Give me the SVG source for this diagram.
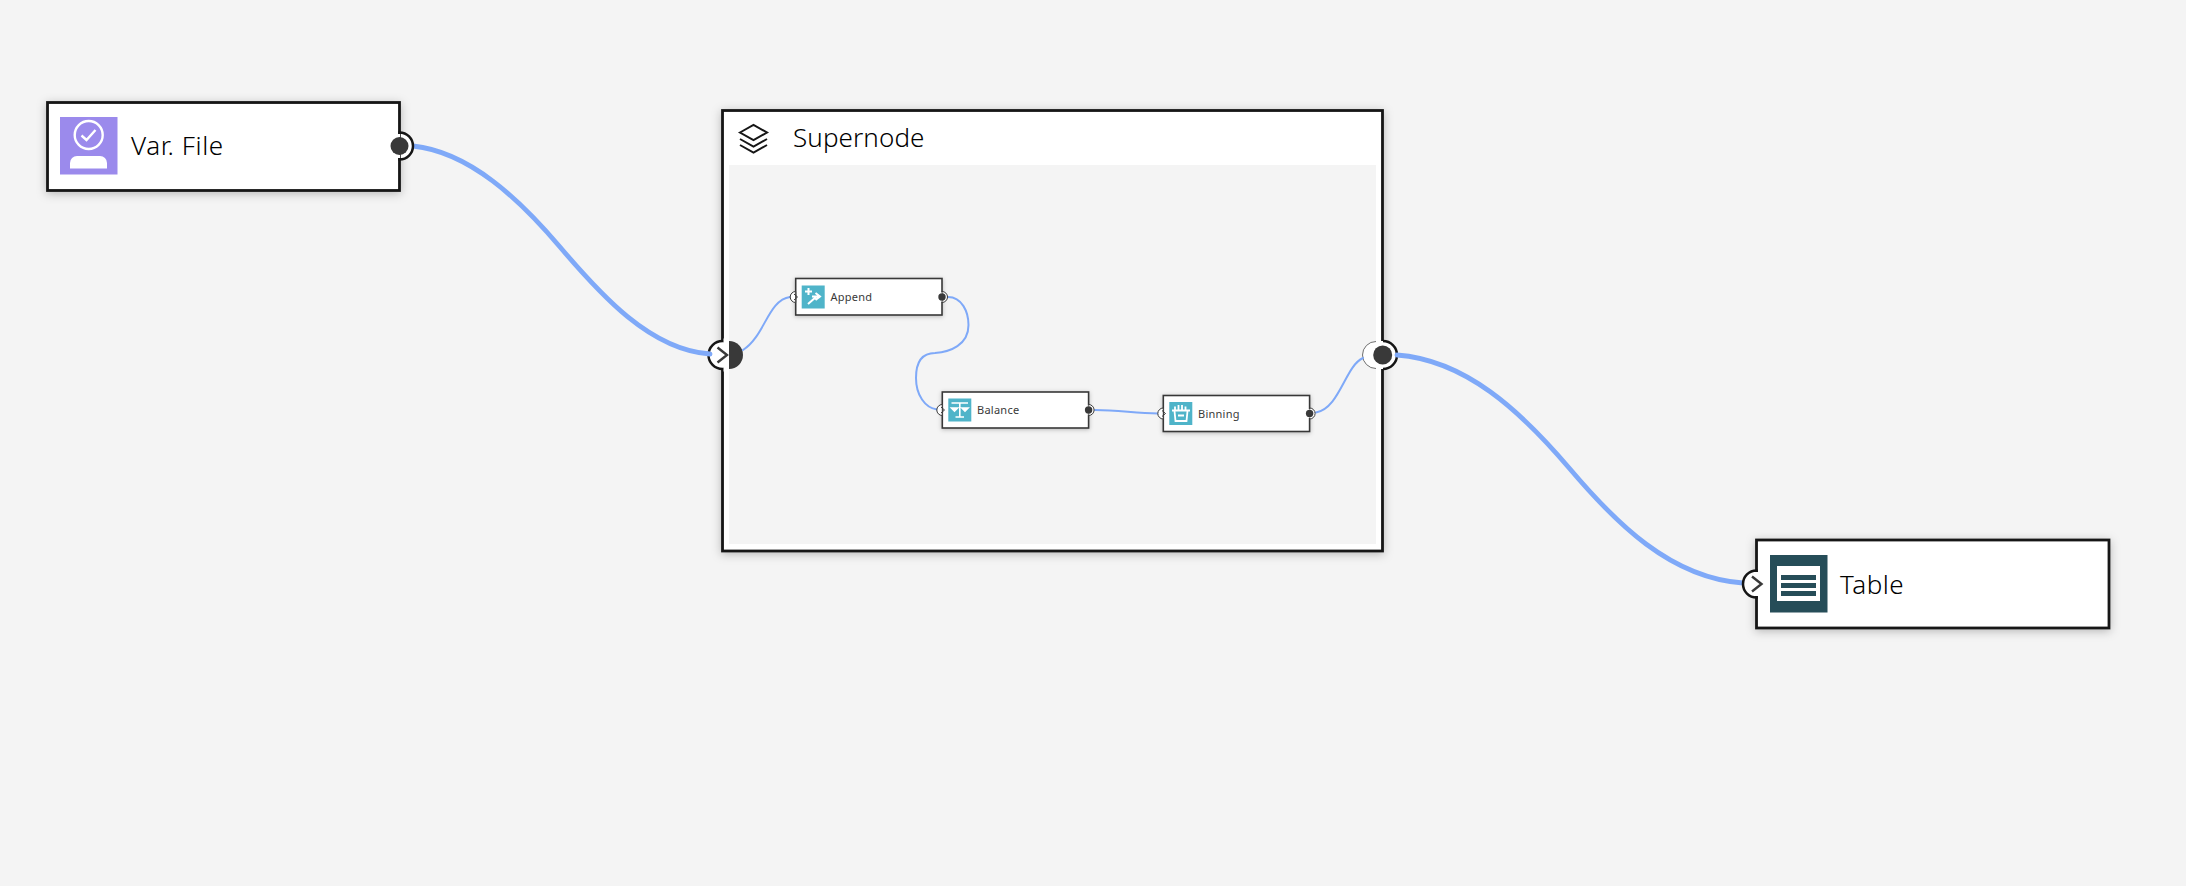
<svg xmlns="http://www.w3.org/2000/svg" width="2186" height="886" viewBox="0 0 2186 886">
<defs>
<style>
.box{fill:#fff;stroke:#161616;stroke-width:2.8}
.sbox{fill:#fff;stroke:#393939;stroke-width:1.6}
.lbl{font-family:"Noto Sans","Open Sans",sans-serif;fill:#000;font-size:26px;font-weight:300}
.slbl{font-family:"Noto Sans","Open Sans",sans-serif;fill:#393939;font-size:11px;letter-spacing:.25px}
.con{fill:none;stroke:#7fa9f8;stroke-width:4.8;stroke-linecap:round}
.scon{fill:none;stroke:#7fa9f8;stroke-width:2;stroke-linecap:round}
.port{fill:#fff;stroke:#161616;stroke-width:2.5}
.sport{fill:#fff;stroke:#393939;stroke-width:1}
.dot{fill:#393939}
.chev{fill:none;stroke:#393939;stroke-width:2.4}
.schev{fill:none;stroke:#393939;stroke-width:1}
.ico{fill:#fff;stroke:none}
.icol{fill:none;stroke:#fff;stroke-width:2.4}
.teal{fill:#4fb4c9}
</style>
<filter id="sh" x="-10%" y="-20%" width="120%" height="150%"><feDropShadow dx="0" dy="2" stdDeviation="5" flood-color="#000" flood-opacity=".25"/></filter>
<filter id="ssh" x="-10%" y="-20%" width="120%" height="150%"><feDropShadow dx="0" dy="1" stdDeviation="2" flood-color="#000" flood-opacity=".25"/></filter>
<clipPath id="lefthalf"><rect x="1355" y="335" width="21" height="40"/></clipPath>
</defs>
<rect width="2186" height="886" fill="#f4f4f4"/>

<g id="node-supernode">
<rect class="box" x="722.500" y="110.500" width="660" height="440.500" filter="url(#sh)"/>
<rect x="729" y="165" width="647" height="379" fill="#f4f4f4"/>
<g fill="none" stroke="#161616" stroke-width="2">
<path d="M740 132.500 L753.500 125 L767 132.500 L753.500 140Z"/>
<path d="M740 139 L753.500 146.500 L767 139"/>
<path d="M740 145 L753.500 152.500 L767 145"/>
</g>
<text class="lbl" x="793" y="147" letter-spacing=".1">Supernode</text>
<circle class="port" cx="722.500" cy="355" r="14"/>
<rect x="723.500" y="338.500" width="5.500" height="33" fill="#fff"/>
<path class="chev" d="M717.500 347.500 L727 355 L717.500 362.500"/>
<path class="dot" d="M729 341 A14 14 0 0 1 729 369Z"/>
<circle cx="1376" cy="355" r="13.500" fill="#fff" stroke="#6f6f6f" stroke-width="1" clip-path="url(#lefthalf)"/>
<path d="M1376 341 H1383 A14 14 0 0 1 1383 369 H1376Z" fill="#fff"/>
<path d="M1383 341 A14 14 0 0 1 1383 369" fill="none" stroke="#161616" stroke-width="2.500"/>
<circle class="dot" cx="1382.700" cy="355" r="9.500"/>
</g>

<g id="connectors">
<path class="con" d="M413 146 C470 152 520 200 560 247 C600 294 650 350 710 354"/>
<path class="con" d="M1397 355 C1465 360 1520 410 1570 469 C1615 522 1670 578 1743 583"/>
<path class="scon" d="M743 350 C765 336 768 300 790 297"/>
<path class="scon" d="M948 297 C962 297 968.500 312 968.500 325 C968.500 345 950 352 935 353 C920 353 916 365 916 378 C916 395 925 408 937 409.500"/>
<path class="scon" d="M1095 410 C1120 410 1135 413.500 1158 413.500"/>
<path class="scon" d="M1316 412.500 C1340 408 1345 366 1363 358"/>
</g>

<g id="node-var-file">
<rect class="box" x="47.500" y="102.500" width="352" height="88" filter="url(#sh)"/>
<rect x="60" y="117" width="57.500" height="57.500" fill="#9b8aec"/>
<circle class="icol" cx="88.700" cy="135" r="14"/>
<path class="icol" d="M81.500 135.500 L86.500 140 L95.500 130"/>
<path class="ico" d="M70 168.500 V163 A7 7 0 0 1 77 156 H100 A7 7 0 0 1 107 163 V168.500Z"/>
<text class="lbl" x="131" y="155" letter-spacing=".6">Var. File</text>
<path class="port" d="M399.500 132.500 A13.500 13.500 0 0 1 399.500 159.500Z"/>
<rect x="396" y="134" width="4" height="24" fill="#fff"/>
<circle class="dot" cx="399.500" cy="146" r="9"/>
</g>

<g id="node-append">
<rect class="sbox" x="795.700" y="278.500" width="146.300" height="36.500" filter="url(#ssh)"/>
<rect class="teal" x="801.700" y="285.500" width="23" height="23"/>
<path d="M805 291.500 H812 M808.500 288 V295 M808 304 L816 297 M812 296.500 L819 296.500 M815.500 293 L820 296.500 L815.500 300" fill="none" stroke="#fff" stroke-width="2"/>
<text class="slbl" x="830.500" y="300.500">Append</text>
<path class="sport" d="M795.700 291.500 A5.500 5.500 0 0 0 795.700 302.500Z"/>
<path class="schev" d="M794 294 L797.500 297 L794 300"/>
<path class="sport" d="M942 291.500 A5.500 5.500 0 0 1 942 302.500Z"/>
<rect x="939" y="292.500" width="3" height="9" fill="#fff"/>
<circle class="dot" cx="942" cy="297" r="3.700"/>
</g>

<g id="node-balance">
<rect class="sbox" x="942.300" y="392" width="146.300" height="36" filter="url(#ssh)"/>
<rect class="teal" x="948.300" y="398.500" width="23" height="23"/>
<path d="M951.500 403 H968 M959.800 403 V416.500 M955.500 417 H964 M951.500 408 H957.500 L954.500 411Z M962 408 H968 L965 411Z" fill="#fff" stroke="#fff" stroke-width="1.600"/>
<text class="slbl" x="977" y="414">Balance</text>
<path class="sport" d="M942.300 404.500 A5.500 5.500 0 0 0 942.300 415.500Z"/>
<path class="schev" d="M941 407 L944.500 410 L941 413"/>
<path class="sport" d="M1088.600 404.500 A5.500 5.500 0 0 1 1088.600 415.500Z"/>
<rect x="1085.600" y="405.500" width="3" height="9" fill="#fff"/>
<circle class="dot" cx="1088.600" cy="410" r="3.700"/>
</g>

<g id="node-binning">
<rect class="sbox" x="1163.300" y="395.500" width="146.300" height="36" filter="url(#ssh)"/>
<rect class="teal" x="1169.300" y="402" width="23" height="23"/>
<path d="M1172 410.500 H1190 M1175 410 V406.500 M1178.500 410 V405 M1182 410 V405 M1185.500 410 V406.500 M1174.500 411 L1175.500 421 H1186.500 L1187.500 411 M1178 415.500 H1184" fill="none" stroke="#fff" stroke-width="1.800"/>
<text class="slbl" x="1198" y="418">Binning</text>
<path class="sport" d="M1163.300 408 A5.500 5.500 0 0 0 1163.300 419Z"/>
<path class="schev" d="M1162 410.500 L1165.500 413.500 L1162 416.500"/>
<path class="sport" d="M1309.600 408 A5.500 5.500 0 0 1 1309.600 419Z"/>
<rect x="1306.600" y="409" width="3" height="9" fill="#fff"/>
<circle class="dot" cx="1309.600" cy="413.500" r="3.700"/>
</g>

<g id="node-table">
<rect class="box" x="1756.500" y="540" width="352.500" height="88" filter="url(#sh)"/>
<rect x="1770" y="555" width="57.500" height="57.500" fill="#264d58"/>
<rect x="1777" y="566" width="43" height="35" fill="#fff"/>
<path d="M1781 580 V575 H1816 V580Z M1781 588 V583 H1816 V588Z M1781 596 V591 H1816 V596Z" fill="#264d58"/>
<text class="lbl" x="1840" y="594" letter-spacing=".5">Table</text>
<path class="port" d="M1756.500 570.500 A13.500 13.500 0 0 0 1756.500 597.500Z"/>
<rect x="1755" y="572" width="3.500" height="24" fill="#fff"/>
<path class="chev" d="M1752 576.500 L1761.500 584 L1752 591.500"/>
</g>
</svg>
